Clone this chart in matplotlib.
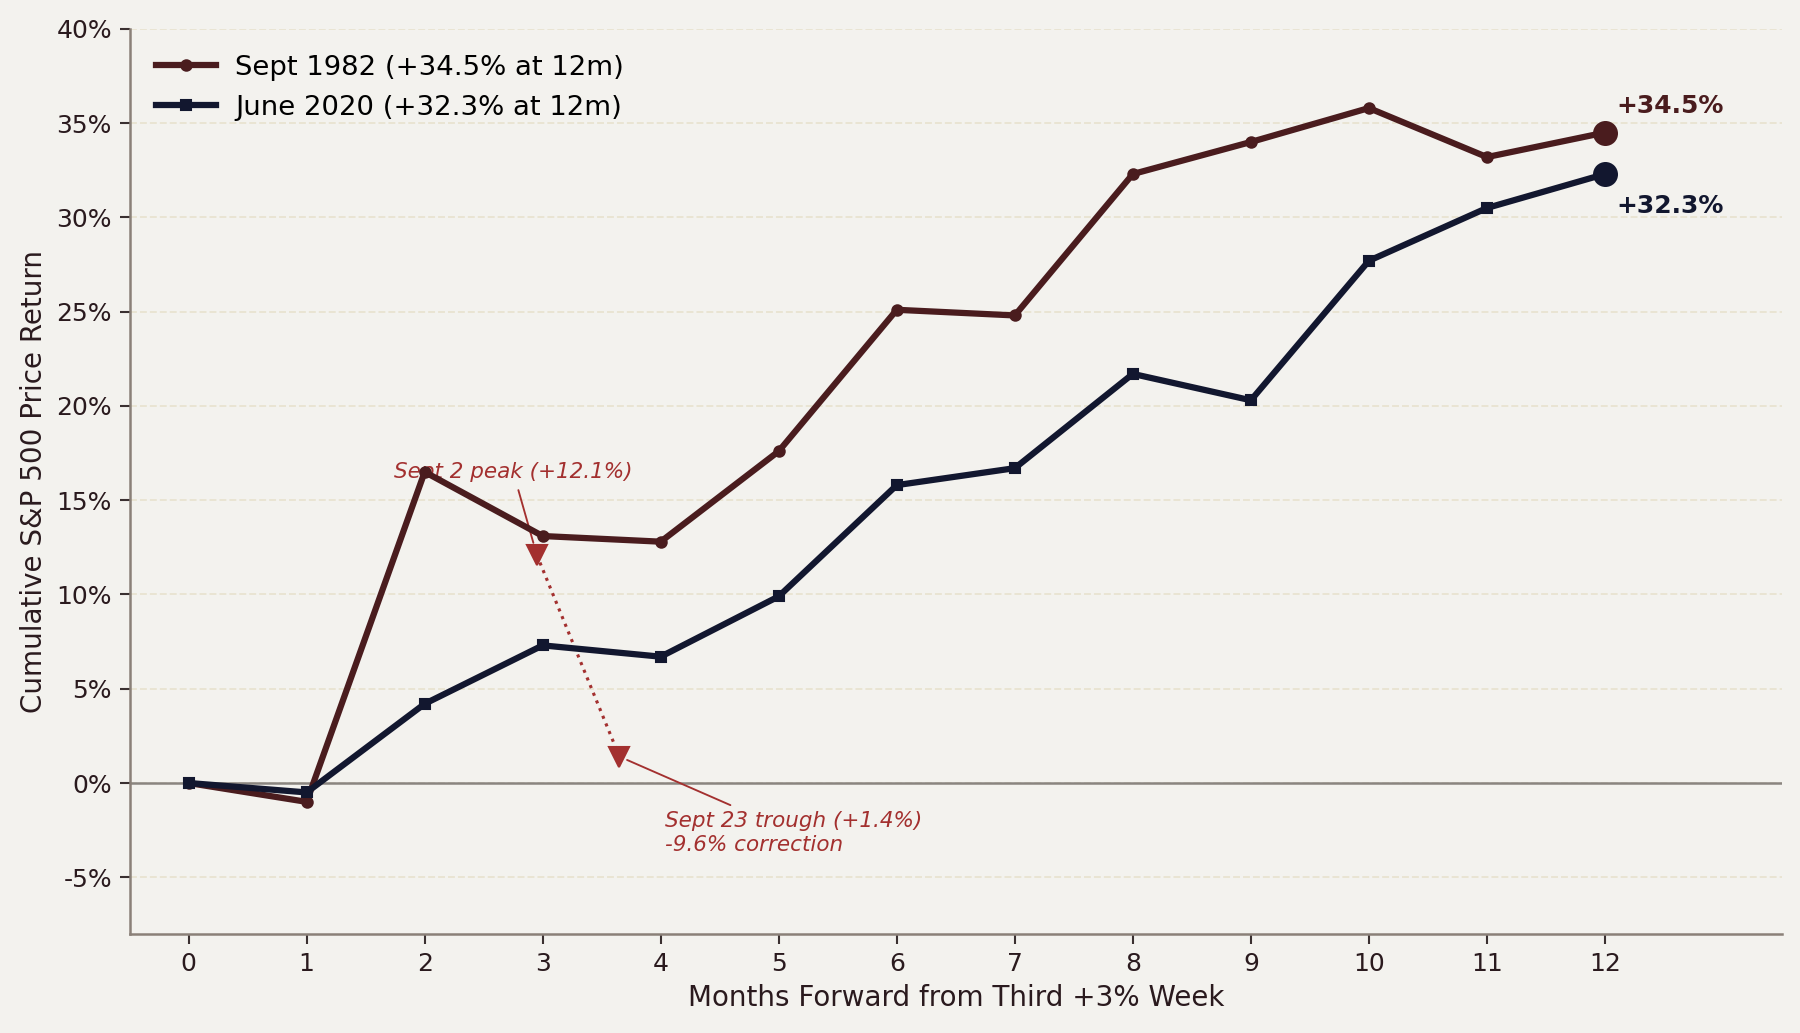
import matplotlib.pyplot as plt
import matplotlib.ticker as mticker

months = list(range(13))
sept_1982 = [0.0, -1.0, 16.5, 13.1, 12.8, 17.6, 25.1, 24.8, 32.3, 34.0, 35.8, 33.2, 34.5]
june_2020 = [0.0, -0.5, 4.2, 7.3, 6.7, 9.9, 15.8, 16.7, 21.7, 20.3, 27.7, 30.5, 32.3]

# peak / trough of the Sept 1982 correction
peak_x, peak_y = 2.95, 12.1
trough_x, trough_y = 3.65, 1.4

red = "#4a1c1e"
navy = "#12172f"
note = "#a3302f"
bg = "#f3f2ee"

plt.rcParams["font.family"] = "DejaVu Sans"

fig = plt.figure(figsize=(12, 6.887), dpi=150, facecolor=bg)
ax = fig.add_axes([0.072, 0.096, 0.918, 0.876], facecolor=bg)

ax.plot(months, sept_1982, color=red, lw=3, marker="o", ms=5, label="Sept 1982 (+34.5% at 12m)", zorder=4)
ax.plot(months, june_2020, color=navy, lw=3, marker="s", ms=5, label="June 2020 (+32.3% at 12m)", zorder=4)

ax.plot([months[-1]], [sept_1982[-1]], "o", color=red, ms=11, zorder=5)
ax.plot([months[-1]], [june_2020[-1]], "o", color=navy, ms=11, zorder=5)
ax.text(12.1, 35.9, "+34.5%", color=red, fontsize=12, fontweight="bold", va="center")
ax.text(12.1, 30.6, "+32.3%", color=navy, fontsize=12, fontweight="bold", va="center")

ax.plot([peak_x, trough_x], [peak_y, trough_y], color=note, lw=1.5, ls=":", zorder=3)
ax.plot([peak_x], [peak_y], "v", color=note, ms=10, zorder=6)
ax.plot([trough_x], [trough_y], "v", color=note, ms=10, zorder=6)

ax.annotate("Sept 2 peak (+12.1%)", xy=(peak_x, peak_y), xytext=(2.75, 16.5),
            ha="center", va="center", fontsize=10.3, style="italic", color=note,
            arrowprops=dict(arrowstyle="-", color=note, lw=0.9, shrinkB=6))
ax.annotate("Sept 23 trough (+1.4%)\n-9.6% correction", xy=(trough_x, trough_y), xytext=(4.04, -2.65),
            ha="left", va="center", fontsize=10.3, style="italic", color=note, linespacing=1.25,
            arrowprops=dict(arrowstyle="-", color=note, lw=0.9, shrinkB=4))

ax.axhline(0, color="#8a8580", lw=1.2, zorder=2)

ax.set_xlim(-0.5, 13.5)
ax.set_ylim(-8, 40)
ax.set_xticks(months)
ax.set_yticks(range(-5, 41, 5))
ax.yaxis.set_major_formatter(mticker.FuncFormatter(lambda v, p: f"{v:.0f}%"))
ax.grid(axis="y", color="#e9e4d2", ls="--", lw=0.9, zorder=0)
ax.set_axisbelow(True)

for s in ["top", "right"]:
    ax.spines[s].set_visible(False)
for s in ["left", "bottom"]:
    ax.spines[s].set_color("#8a8078")
    ax.spines[s].set_linewidth(1.2)
ax.tick_params(colors="#2a1a1e", labelsize=12, length=5, width=1, color="#3a3030")

ax.set_xlabel("Months Forward from Third +3% Week", fontsize=13.3, color="#2a1a1e")
ax.set_ylabel("Cumulative S&P 500 Price Return", fontsize=13.3, color="#2a1a1e")

ax.legend(loc="upper left", frameon=False, fontsize=13.2, handlelength=2.2, handletextpad=0.7, borderaxespad=0.55)

fig.savefig("out.png", dpi=150, facecolor=bg)
